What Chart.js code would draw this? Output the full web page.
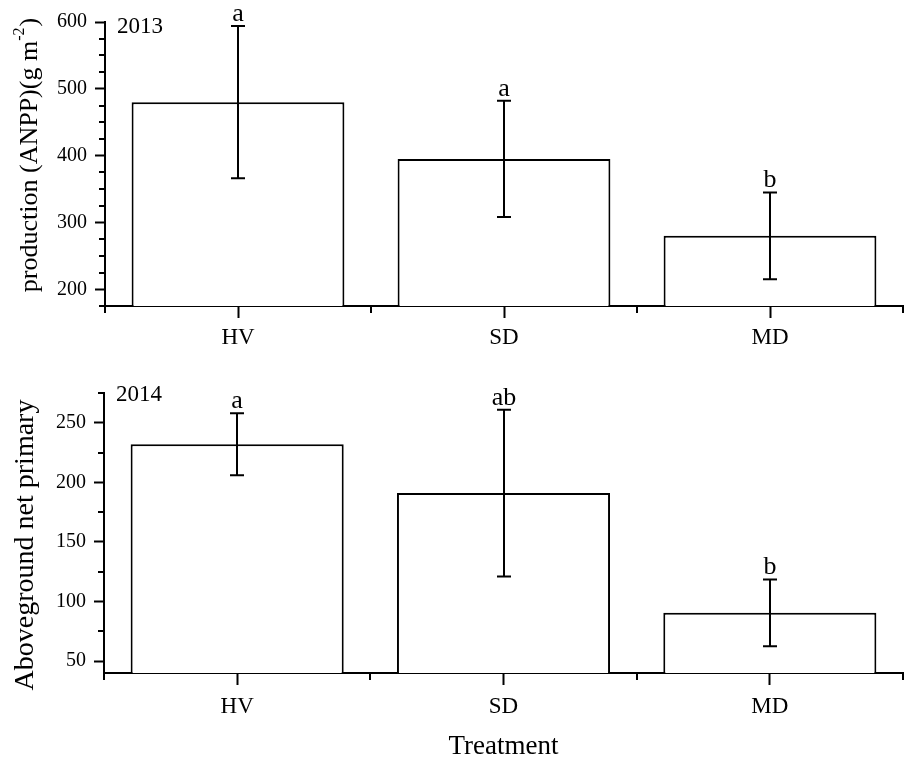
<!DOCTYPE html>
<html lang="en">
<head>
<meta charset="utf-8">
<script src="https://cdn.jsdelivr.net/npm/chart.js"></script>
<style>
    html, body { margin: 0; padding: 0; background: #fff; }
    .panel { position: absolute; left: 0; width: 904px; }
    #top { top: 0; height: 360px; }
    #bottom { top: 360px; height: 398px; }
</style>
</head>
<body>
<div class="panel" id="top"><canvas id="c2013"></canvas></div>
<div class="panel" id="bottom"><canvas id="c2014"></canvas></div>

<script>
    const categories = ['HV', 'SD', 'MD'];

    const anpp2013 = [480, 395, 280];
    const err2013 = [114, 87, 65];
    const letters2013 = ['a', 'a', 'b'];
    const ticks2013 = [200, 300, 400, 500, 600];

    const anpp2014 = [232, 191, 90.5];
    const err2014 = [26, 70, 28];
    const letters2014 = ['a', 'ab', 'b'];
    const ticks2014 = [50, 100, 150, 200, 250];

    const serif = "'Liberation Serif', 'Times New Roman', serif";
    Chart.defaults.color = '#000';
    Chart.defaults.font.family = serif;

    // minor ticks on both axes
    const minorTicks = {
        id: 'minorTicks',
        afterDraw(chart) {
            const { ctx, scales: { x, y } } = chart;
            const o = chart.options.plugins.minorTicks;
            ctx.save();
            ctx.strokeStyle = '#000';
            ctx.lineWidth = 2;
            ctx.beginPath();
            for (let v = Math.ceil(y.min / o.step) * o.step; v <= y.max; v += o.step) {
                if (o.majors.includes(v)) continue;
                const py = Math.round(y.getPixelForValue(v));
                ctx.moveTo(y.right - 6, py);
                ctx.lineTo(y.right, py);
            }
            const w = x.getPixelForValue(1) - x.getPixelForValue(0);
            for (let i = 0; i <= categories.length; i++) {
                const px = Math.round(x.getPixelForValue(0) + (i - 0.5) * w);
                ctx.moveTo(px, x.top);
                ctx.lineTo(px, x.top + 7);
            }
            ctx.stroke();
            ctx.restore();
        }
    };

    // error bars, significance letters, year label, y title (with superscript)
    const annot = {
        id: 'annot',
        afterDatasetsDraw(chart) {
            const { ctx, chartArea, scales: { x, y } } = chart;
            const o = chart.options.plugins.annot;
            ctx.save();
            ctx.strokeStyle = '#000';
            ctx.lineWidth = 2;
            ctx.fillStyle = '#000';
            ctx.textAlign = 'center';
            ctx.textBaseline = 'alphabetic';
            ctx.font = '26px ' + serif;
            o.values.forEach((v, i) => {
                const px = Math.round(x.getPixelForValue(i));
                const hi = y.getPixelForValue(v + o.errs[i]);
                const lo = y.getPixelForValue(v - o.errs[i]);
                ctx.beginPath();
                ctx.moveTo(px, hi); ctx.lineTo(px, lo);
                ctx.moveTo(px - 7, hi); ctx.lineTo(px + 7, hi);
                ctx.moveTo(px - 7, lo); ctx.lineTo(px + 7, lo);
                ctx.stroke();
                ctx.fillText(o.letters[i], px, hi - 5);
            });
            ctx.textAlign = 'left';
            ctx.textBaseline = 'middle';
            ctx.font = '23px ' + serif;
            ctx.fillText(o.year, chartArea.left + 12, chartArea.top + o.yearDy);

            // rotated y title
            const t = o.yTitle;
            const main = o.titleSize + 'px ' + serif;
            const small = Math.round(o.titleSize * 0.62) + 'px ' + serif;
            ctx.font = main;
            const w1 = ctx.measureText(t.text).width;
            const w3 = t.after ? ctx.measureText(t.after).width : 0;
            ctx.font = small;
            const w2 = t.sup ? ctx.measureText(t.sup).width + 1 : 0;
            const total = w1 + w2 + w3;
            ctx.translate(t.x, t.y);
            ctx.rotate(-Math.PI / 2);
            ctx.textBaseline = 'middle';
            let cx = -total / 2;
            ctx.font = main;
            ctx.fillText(t.text, cx, 0);
            cx += w1;
            if (t.sup) {
                ctx.font = small;
                ctx.fillText(t.sup, cx, -o.titleSize * 0.38);
                cx += w2;
                ctx.font = main;
                ctx.fillText(t.after, cx, 0);
            }
            ctx.restore();
        }
    };

    function makeChart(id, cfg) {
        return new Chart(document.getElementById(id), {
            type: 'bar',
            data: {
                labels: categories,
                datasets: [{
                    data: cfg.values,
                    base: cfg.min,
                    backgroundColor: '#fff',
                    borderColor: '#000',
                    borderWidth: 2,
                    borderSkipped: 'bottom',
                    barPercentage: 0.8,
                    categoryPercentage: 1.0
                }]
            },
            options: {
                responsive: true,
                maintainAspectRatio: false,
                animation: false,
                layout: { padding: { top: cfg.top, right: 1, left: 0, bottom: 0 } },
                scales: {
                    x: {
                        offset: true,
                        afterFit: s => { s.height = cfg.xHeight; },
                        grid: {
                            offset: false, drawOnChartArea: false, drawTicks: true,
                            tickLength: 12, tickWidth: 2, tickColor: '#000', color: '#000'
                        },
                        border: { display: true, color: '#000', width: 2 },
                        ticks: { font: { size: 23 }, padding: cfg.xPad },
                        title: cfg.xTitle
                            ? { display: true, text: cfg.xTitle, font: { size: 27, lineHeight: 0.8 }, padding: { top: 0, bottom: 0 } }
                            : { display: false }
                    },
                    y: {
                        min: cfg.min,
                        max: cfg.max,
                        afterBuildTicks: s => { s.ticks = cfg.majors.map(v => ({ value: v })); },
                        afterFit: s => { s.width = cfg.left; },
                        grid: {
                            drawOnChartArea: false, drawTicks: true,
                            tickLength: 10, tickWidth: 2, tickColor: '#000', color: '#000'
                        },
                        border: { display: true, color: '#000', width: 2 },
                        ticks: { font: { size: 20 }, padding: 8 }
                    }
                },
                plugins: {
                    legend: { display: false },
                    tooltip: { enabled: false },
                    minorTicks: { step: 25, majors: cfg.majors },
                    annot: {
                        values: cfg.values, errs: cfg.errs, letters: cfg.letters,
                        year: cfg.year, yearDy: cfg.yearDy,
                        yTitle: cfg.yTitle, titleSize: cfg.titleSize
                    }
                }
            },
            plugins: [minorTicks, annot]
        });
    }

    makeChart('c2013', {
        values: anpp2013, errs: err2013, letters: letters2013, majors: ticks2013,
        min: 175, max: 600, top: 22, left: 105, xHeight: 54, xPad: 6,
        yTitle: { text: 'production (ANPP)(g m', sup: '-2', after: ')', x: 30, y: 155 },
        titleSize: 26,
        year: '2013', yearDy: 5
    });

    makeChart('c2014', {
        values: anpp2014, errs: err2014, letters: letters2014, majors: ticks2014,
        min: 40, max: 275, top: 33, left: 104, xHeight: 85, xPad: 8,
        yTitle: { text: 'Aboveground net primary', x: 26, y: 185 },
        titleSize: 28,
        xTitle: 'Treatment',
        year: '2014', yearDy: 2
    });
</script>
</body>
</html>
